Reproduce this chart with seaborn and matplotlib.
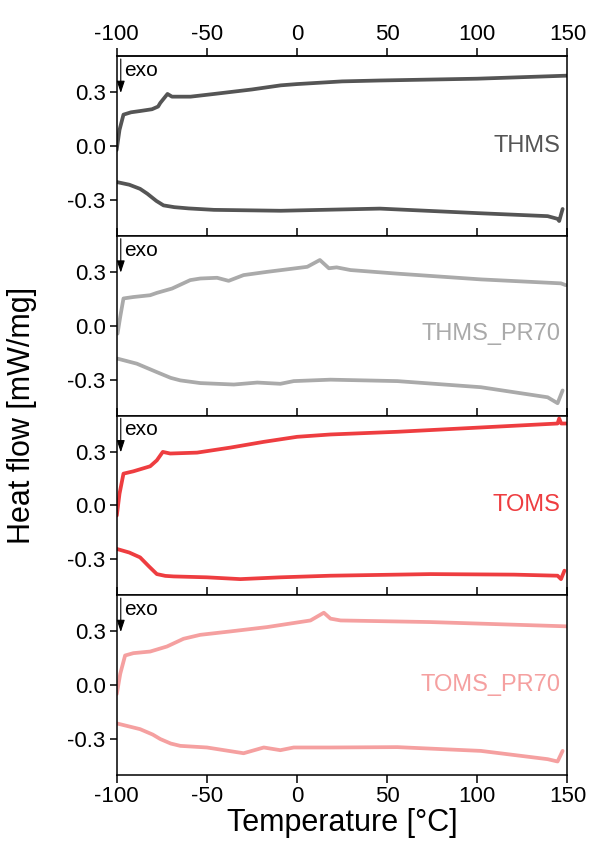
import numpy as np
import pandas as pd
import matplotlib
matplotlib.use("Agg")
import matplotlib.pyplot as plt
import seaborn as sns

sns.set_theme(style="ticks")
plt.rcParams['font.family'] = ['Liberation Sans', 'DejaVu Sans']
plt.rcParams['axes.unicode_minus'] = False
plt.rcParams['text.color'] = 'black'
plt.rcParams['axes.labelcolor'] = 'black'
plt.rcParams['xtick.color'] = 'black'
plt.rcParams['ytick.color'] = 'black'

samples = ["THMS", "THMS_PR70", "TOMS", "TOMS_PR70"]
colors = ["#555555", "#aaaaaa", "#ee3d40", "#f5a0a0"]

# Heating (upper) and cooling (lower) curves: temperature [°C], heat flow [mW/mg]
thms_up_T = [-100, -98.4, -96.2, -92, -87, -80.4, -77, -75.8, -71.8, -69.3, -59, -46, -25, -9, 0, 25, 46, 100, 150]
thms_up_v = [-0.022, 0.09, 0.175, 0.188, 0.195, 0.205, 0.22, 0.24, 0.29, 0.275, 0.275, 0.29, 0.315, 0.338, 0.345, 0.36, 0.365, 0.375, 0.392]
thms_dn_T = [-100, -93, -87, -83, -78, -74, -68, -60, -46, -9, 46, 102, 139, 144.5, 145.4, 147.3]
thms_dn_v = [-0.2, -0.215, -0.238, -0.265, -0.305, -0.33, -0.34, -0.347, -0.355, -0.36, -0.348, -0.374, -0.39, -0.405, -0.417, -0.35]

pr_up_T = [-99.5, -98, -96.2, -90.7, -81.4, -77.7, -69.3, -59.2, -53.6, -44.3, -37.9, -29.6, -16.6, 5.7, 12.7, 17.7, 22, 29.7, 55.7, 102, 146.4, 149]
pr_up_v = [-0.044, 0.05, 0.152, 0.16, 0.17, 0.183, 0.207, 0.254, 0.263, 0.267, 0.25, 0.282, 0.30, 0.328, 0.366, 0.32, 0.325, 0.31, 0.29, 0.258, 0.236, 0.226]
pr_dn_T = [-99.5, -88.8, -77.7, -70, -64.7, -53.6, -35, -22, -9.2, -1.8, 18.6, 55.7, 102, 139, 144.5, 147.3]
pr_dn_v = [-0.183, -0.211, -0.258, -0.29, -0.304, -0.319, -0.327, -0.316, -0.323, -0.308, -0.30, -0.308, -0.342, -0.398, -0.431, -0.36]

toms_up_T = [-99.9, -98.4, -96.2, -90.7, -81.4, -77.7, -74.4, -70.3, -55.4, -36.9, -18.4, 0.1, 18.6, 55.7, 102, 144.5, 145.4, 146.5, 150]
toms_up_v = [-0.056, 0.065, 0.177, 0.19, 0.218, 0.251, 0.298, 0.289, 0.294, 0.322, 0.354, 0.382, 0.395, 0.41, 0.434, 0.456, 0.484, 0.456, 0.456]
toms_dn_T = [-99.9, -93, -87, -82, -77.7, -73, -68.4, -49.9, -31.4, -9.2, 18.6, 74, 120.4, 144.5, 146.4, 148.3]
toms_dn_v = [-0.242, -0.262, -0.289, -0.34, -0.382, -0.392, -0.395, -0.40, -0.41, -0.40, -0.391, -0.382, -0.385, -0.391, -0.41, -0.363]

tpr_up_T = [-99.9, -98, -95.3, -90.7, -81.4, -72.1, -62.9, -53.6, -36.9, -16.6, 7.5, 14.9, 18.6, 24.2, 74, 150]
tpr_up_v = [-0.049, 0.063, 0.165, 0.178, 0.187, 0.215, 0.258, 0.28, 0.299, 0.323, 0.36, 0.403, 0.37, 0.36, 0.351, 0.327]
tpr_dn_T = [-99.9, -87, -80, -75.8, -70, -64.7, -49.9, -29.6, -18.4, -9.2, -1.8, 18.6, 55.7, 102, 139, 144.5, 147.3]
tpr_dn_v = [-0.213, -0.245, -0.275, -0.30, -0.325, -0.338, -0.347, -0.379, -0.347, -0.362, -0.347, -0.347, -0.345, -0.366, -0.412, -0.425, -0.366]

curves = [
    (thms_up_T, thms_up_v, thms_dn_T, thms_dn_v),
    (pr_up_T, pr_up_v, pr_dn_T, pr_dn_v),
    (toms_up_T, toms_up_v, toms_dn_T, toms_dn_v),
    (tpr_up_T, tpr_up_v, tpr_dn_T, tpr_dn_v),
]

xticks = [-100, -50, 0, 50, 100, 150]
yticks = [-0.3, 0.0, 0.3]
ytick_labels = ["-0.3", "0.0", "0.3"]

fig, axes = plt.subplots(4, 1, figsize=(5.92, 8.52), dpi=100, sharex=True)
fig.subplots_adjust(left=0.197, right=0.9586, top=0.934, bottom=0.0904, hspace=0)

TICK_FS = 16
for i, (ax, name, col, (uT, uv, dT, dv)) in enumerate(zip(axes, samples, colors, curves)):
    df_u = pd.DataFrame({"T": uT, "v": uv})
    df_d = pd.DataFrame({"T": dT, "v": dv})
    sns.lineplot(data=df_u, x="T", y="v", ax=ax, color=col, lw=2.7, sort=False, estimator=None)
    sns.lineplot(data=df_d, x="T", y="v", ax=ax, color=col, lw=2.7, sort=False, estimator=None)
    ax.set_xlim(-100, 150)
    ax.set_ylim(-0.5, 0.5)
    ax.set_yticks(yticks)
    ax.set_yticklabels(ytick_labels)
    ax.set_xticks(xticks)
    ax.set_xticklabels([str(t) for t in xticks])
    ax.set_xlabel("")
    ax.set_ylabel("")
    for s in ax.spines.values():
        s.set_visible(True)
        s.set_linewidth(1.1)
        s.set_color("black")
    ax.tick_params(axis="y", direction="out", length=5, width=1.1, labelsize=TICK_FS, colors="black",
                   left=True, right=False, pad=3)
    if i == 3:
        ax.tick_params(axis="x", top=False, labeltop=False, bottom=True, labelbottom=True,
                       direction="out", length=6, width=1.1, labelsize=TICK_FS, pad=2, colors="black")
    else:
        ax.tick_params(axis="x", top=False, labeltop=False, bottom=True, labelbottom=False,
                       direction="in", length=6, width=1.1, colors="black")
    ax.text(0.985, 0.5 if i != 1 else 0.456, name, transform=ax.transAxes, ha="right", va="center",
            fontsize=17, color=col)
    ax.annotate("", xy=(-97.7, 0.28), xytext=(-97.7, 0.5),
                arrowprops=dict(arrowstyle="-|>,head_length=0.6,head_width=0.2", lw=0.8, color="black"))
    ax.text(-96, 0.42, "exo", fontsize=15, ha="left", va="center", color="black")

# top axis of the first panel: outward ticks with labels
top = axes[0].secondary_xaxis("top")
top.set_xticks(xticks)
top.set_xticklabels([str(t) for t in xticks])
top.tick_params(axis="x", direction="out", length=6, width=1.1, labelsize=TICK_FS, pad=2, colors="black")
top.spines["top"].set_linewidth(1.1)

axes[3].set_xlabel("Temperature [°C]", fontsize=22, labelpad=1)
fig.text(0.038, 0.512, "Heat flow [mW/mg]", rotation=90, ha="center", va="center", fontsize=22)

fig.savefig("out.png", dpi=100)
